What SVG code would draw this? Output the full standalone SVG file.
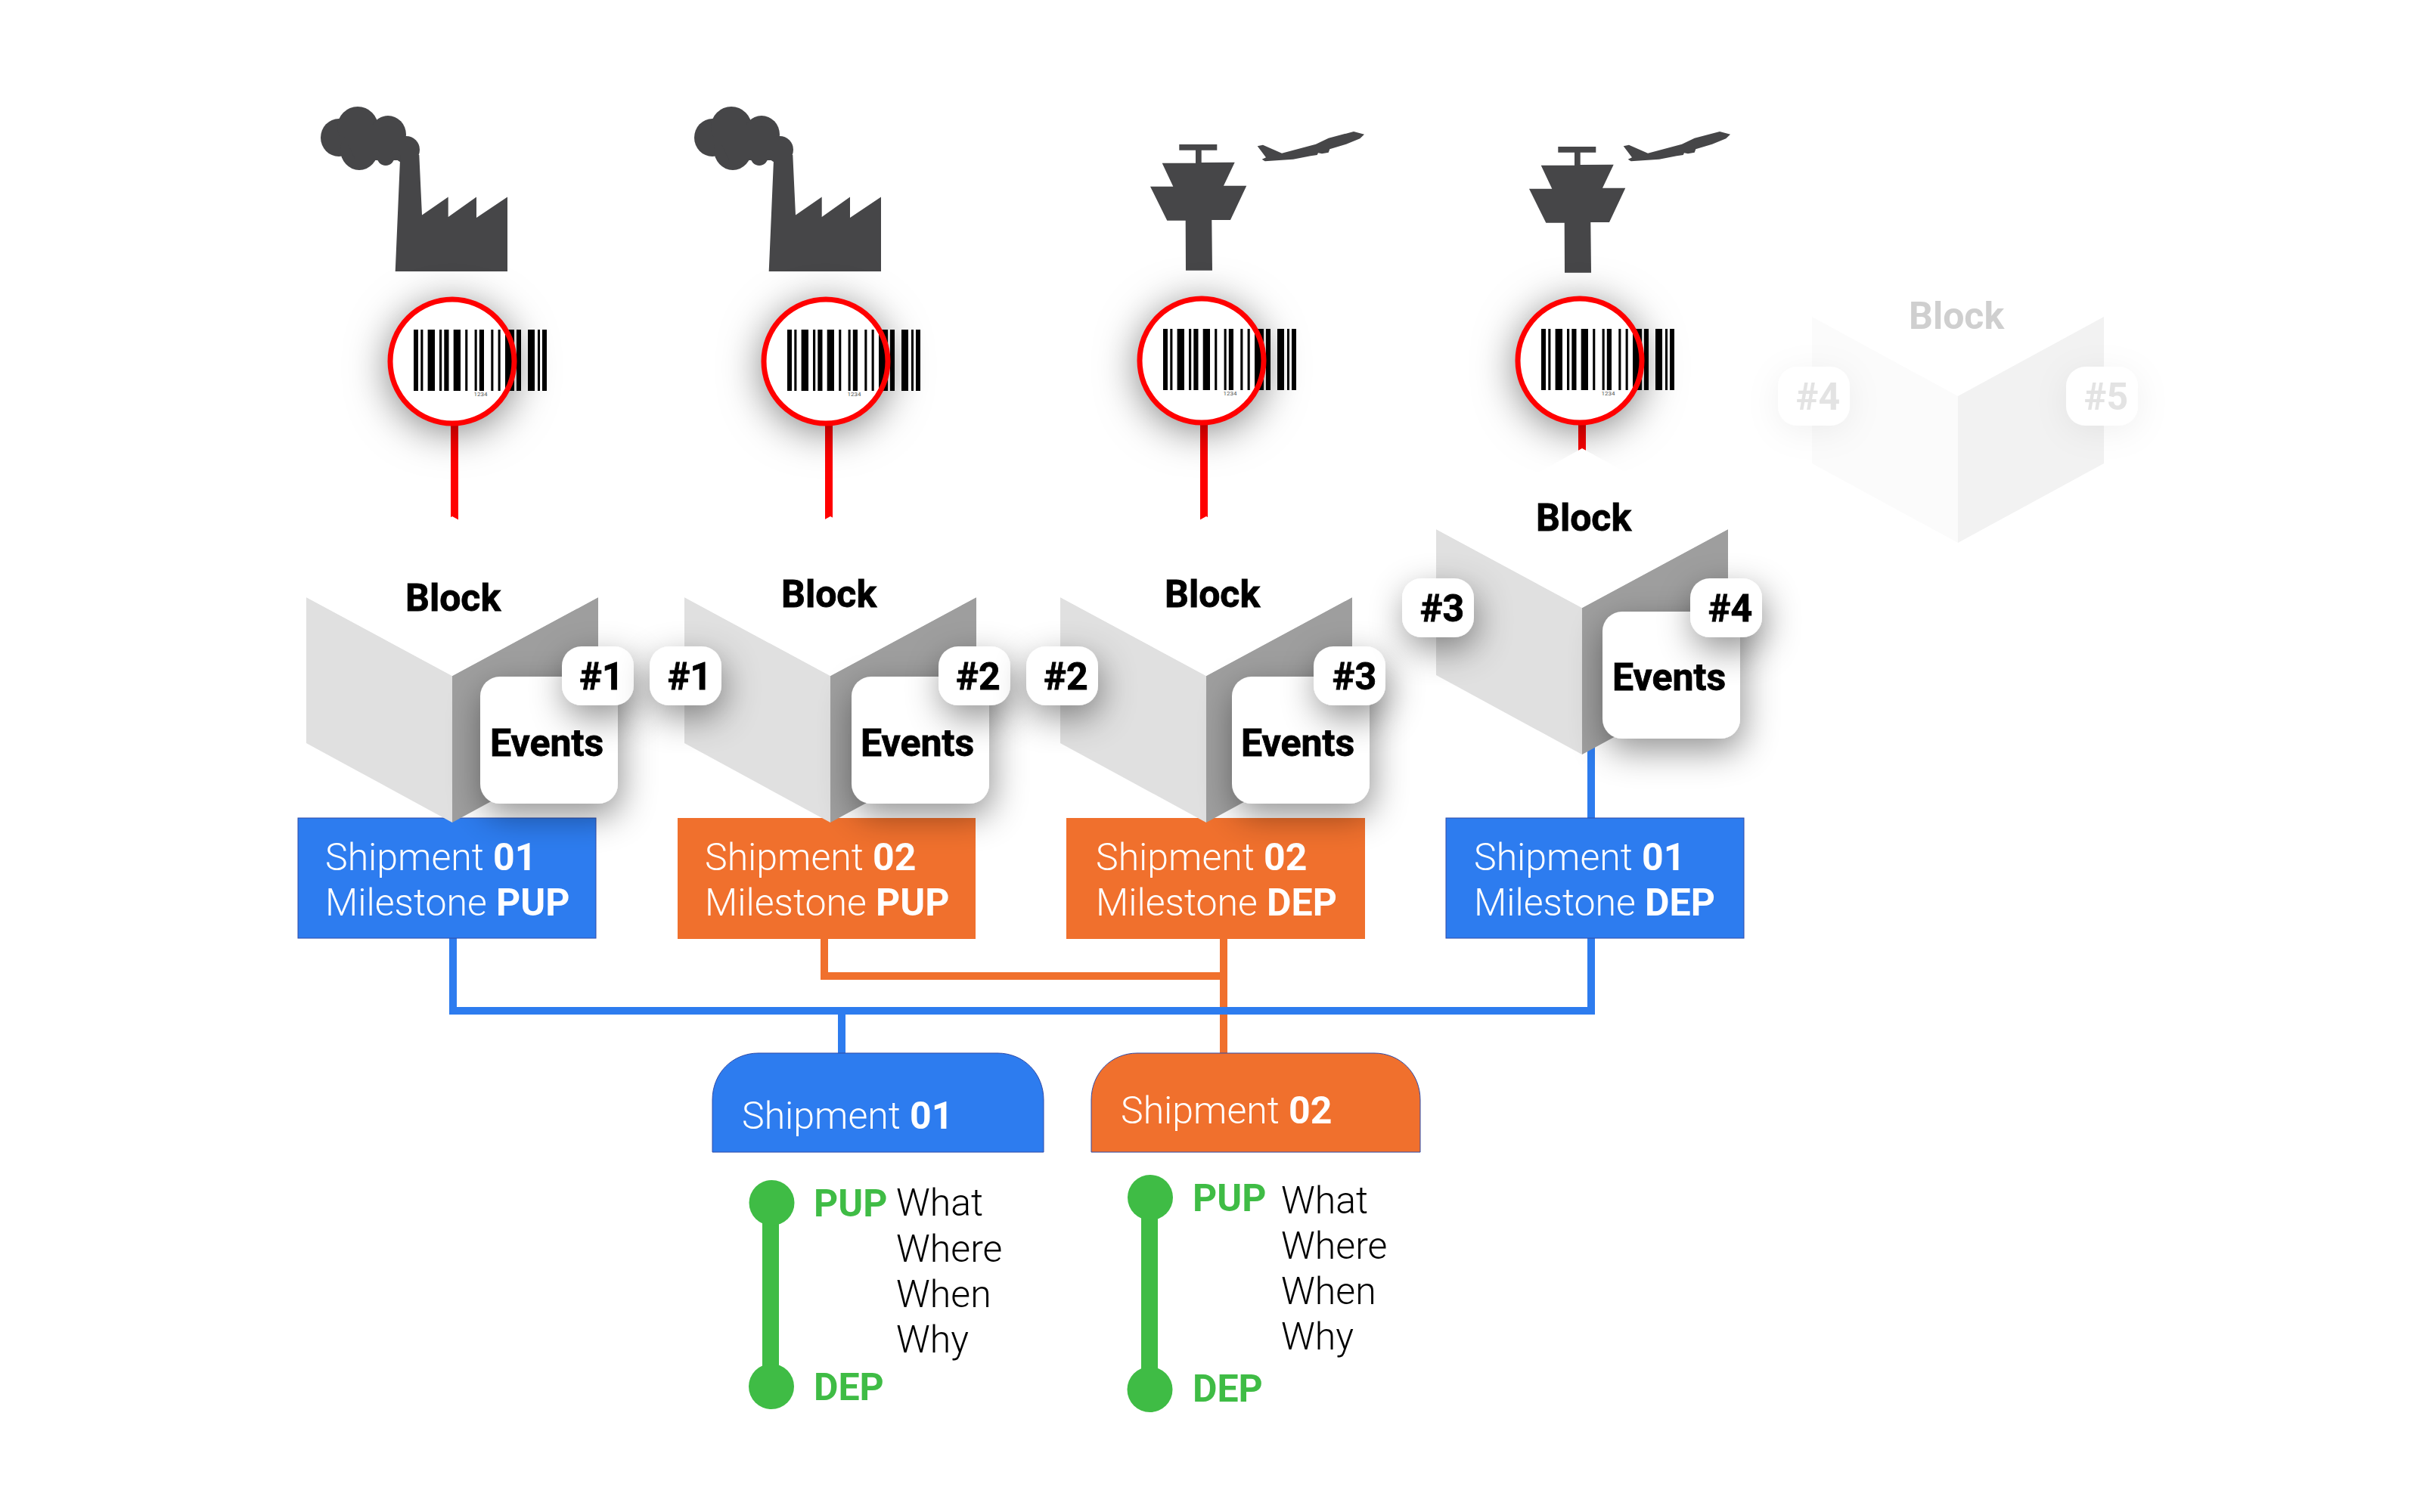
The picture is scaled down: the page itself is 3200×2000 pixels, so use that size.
<svg xmlns="http://www.w3.org/2000/svg" width="3200" height="2000" viewBox="0 0 3200 2000">
<style>
text{font-family:Roboto,"Liberation Sans",sans-serif}
.h{font-size:50px;font-weight:700;fill:#000;stroke:#000;stroke-width:.8px}
.m{text-anchor:middle}
.w{font-size:50px;font-weight:300;fill:#fff}
.w tspan{font-weight:700}
.k{font-size:50px;font-weight:300;fill:#000}
.g{font-size:50px;font-weight:700;fill:#3fbc45}
.blue{fill:#2d7cef;stroke:#2f4aa8;stroke-width:1}
.orange{fill:#f0702d}
.orangeb{fill:#f0702d;stroke:#2f4aa8;stroke-width:1}
.icon{fill:#464648}
.cb{stroke:#2d7cef;stroke-width:10;fill:none}
.co{stroke:#f0702d;stroke-width:10;fill:none}
.cr{stroke:#f00;stroke-width:10;fill:none}
.tl{stroke:#3fbc45;stroke-width:22;fill:none}
.dot{fill:#3fbc45}
.card{fill:#fff;filter:url(#sh)}
.ghostbadge{fill:#fff;filter:url(#shg)}
.lens{fill:#fff;filter:url(#shl)}
.ring{fill:none;stroke:#f00;stroke-width:7}
.gt{stroke:none}
</style>
<defs>
<filter id="sh" x="-80%" y="-80%" width="260%" height="260%"><feDropShadow dx="4" dy="16" stdDeviation="23" flood-color="#000" flood-opacity="0.42"/></filter>
<filter id="shg" x="-80%" y="-80%" width="260%" height="260%"><feDropShadow dx="0" dy="8" stdDeviation="22" flood-color="#000" flood-opacity="0.06"/></filter>
<filter id="shl" x="-60%" y="-60%" width="220%" height="220%"><feDropShadow dx="0" dy="8" stdDeviation="28" flood-color="#000" flood-opacity="0.55"/></filter>
<g id="cube">
<path d="M0 0L193 104V298L0 193Z" fill="#e0e0e0"/>
<path d="M386 0L193 104V298L386 193Z" fill="#9e9e9e"/>
<path d="M0 0L193-107L386 0L193 104Z" fill="#fff"/>
</g>
<g id="barcode">
<path fill="#000" d="M0 0h6v81h-6zM9.3 0h3.1v81h-3.1zM18.6 0h9.4v81h-9.4zM34 0h3.2v81h-3.2zM40.3 0h6.2v81h-6.2zM52.7 0h9.3v81h-9.3zM68.2 0h3.1v81h-3.1zM80.6 0h3.1v81h-3.1zM86.8 0h6.2v81h-6.2zM102.3 0h3.1v81h-3.1zM111.6 0h3.1v81h-3.1zM121 0h12v81h-12zM136 0h6v81h-6zM151 0h9v81h-9zM164 0h3v81h-3zM170 0h6v81h-6z"/>
<text x="88.500" y="88" font-size="8" fill="#555" text-anchor="middle">1234</text>
</g>
<g id="factory" class="icon">
<ellipse cx="448" cy="182" rx="24" ry="25"/>
<ellipse cx="473" cy="168" rx="27" ry="27"/>
<ellipse cx="475" cy="198" rx="25" ry="27"/>
<ellipse cx="513" cy="178" rx="24" ry="25"/>
<ellipse cx="510" cy="206" rx="12" ry="13"/>
<ellipse cx="537" cy="198" rx="18" ry="18"/>
<path d="M460 165H530V212H470L460 190Z"/>
<path d="M522.7 359L529.3 205H554.3L558 284.6L592.7 260.5V287L630 260.5V288L671 260.5V359Z"/>
</g>
<g id="tower" class="icon">
<path d="M1559.3 191H1609.3V198.7H1588.7V215L1632.7 214.7L1618 245.7H1648.3L1627 291H1602.3L1603 357.7H1568L1567.7 291.7H1543.3L1521 246.7H1551.3L1536.7 215.7H1581V198.7H1559.3Z"/>
</g>
<g id="plane" class="icon">
<path d="M1662.7 193.3L1670 191.7L1695 202.7L1740 190.7L1756.7 182.7L1790 174L1804 177.7L1798.3 183.3L1780 190.7L1758.3 197.3L1756.7 201.7L1748 203.3L1743 202.3L1741.7 205L1733 206.3L1710 210.7L1672.7 213.3L1668.7 210.7L1674 208.3Z"/>
</g>
</defs>
<rect width="3200" height="2000" fill="#fff"/>
<g id="connectors">
<path class="cr" d="M601 560V700"/>
<path class="cr" d="M1096 560V700"/>
<path class="cr" d="M1592 560V700"/>
<path class="cr" d="M2092 560V610"/>
<path class="co" d="M1090 1240V1291H1618"/>
<path class="co" d="M1618 1240V1394"/>
<path class="cb" d="M599 1240V1337H2104V985"/>
<path class="cb" d="M1113 1337V1394"/>
<path class="tl" d="M1019 1591V1834"/>
<path class="tl" d="M1520 1584V1838"/>
</g>
<g id="icons">
<use href="#factory"/>
<use href="#factory" transform="translate(494,0)"/>
<use href="#tower"/>
<use href="#plane"/>
<use href="#tower" transform="translate(501,3)"/>
<use href="#plane" transform="translate(484,0)"/>
</g>
<g id="scanner1"><circle class="lens" cx="598" cy="478" r="82"/><use href="#barcode" x="547" y="436"/><circle class="ring" cx="598" cy="478" r="82"/></g>
<g id="scanner2"><circle class="lens" cx="1092" cy="478" r="82"/><use href="#barcode" x="1041" y="436"/><circle class="ring" cx="1092" cy="478" r="82"/></g>
<g id="scanner3"><circle class="lens" cx="1589" cy="477" r="82"/><use href="#barcode" x="1538" y="435"/><circle class="ring" cx="1589" cy="477" r="82"/></g>
<g id="scanner4"><circle class="lens" cx="2089" cy="477" r="82"/><use href="#barcode" x="2038" y="435"/><circle class="ring" cx="2089" cy="477" r="82"/></g>
<g id="milestone1"><rect class="blue" x="394" y="1082" width="394" height="159"/><text class="w" x="430" y="1151">Shipment <tspan>01</tspan></text><text class="w" x="430" y="1211">Milestone <tspan>PUP</tspan></text></g>
<g id="milestone2"><rect class="orange" x="896" y="1082" width="394" height="160"/><text class="w" x="932" y="1151">Shipment <tspan>02</tspan></text><text class="w" x="932" y="1211">Milestone <tspan>PUP</tspan></text></g>
<g id="milestone3"><rect class="orange" x="1410" y="1082" width="395" height="160"/><text class="w" x="1449" y="1151">Shipment <tspan>02</tspan></text><text class="w" x="1449" y="1211">Milestone <tspan>DEP</tspan></text></g>
<g id="milestone4"><rect class="blue" x="1912" y="1082" width="394" height="159"/><text class="w" x="1949" y="1151">Shipment <tspan>01</tspan></text><text class="w" x="1949" y="1211">Milestone <tspan>DEP</tspan></text></g>
<g id="block1"><use href="#cube" x="405" y="790"/><rect class="card" x="635" y="895" width="182" height="168" rx="26"/><rect class="card" x="743" y="855" width="95" height="78" rx="26"/><text class="h" x="536" y="808">Block</text><text class="h" x="648" y="1000">Events</text><text class="h m" x="795.500" y="912">#1</text></g>
<g id="block2"><use href="#cube" x="905" y="790"/><rect class="card" x="1126" y="895" width="182" height="168" rx="26"/><rect class="card" x="859" y="855" width="95" height="78" rx="26"/><rect class="card" x="1241" y="855" width="95" height="78" rx="26"/><text class="h" x="1033" y="803">Block</text><text class="h" x="1138" y="1000">Events</text><text class="h m" x="912" y="912">#1</text><text class="h m" x="1293.500" y="912">#2</text></g>
<g id="block3"><use href="#cube" x="1402" y="790"/><rect class="card" x="1629" y="895" width="182" height="168" rx="26"/><rect class="card" x="1357" y="855" width="95" height="78" rx="26"/><rect class="card" x="1737" y="855" width="95" height="78" rx="26"/><text class="h" x="1540" y="803">Block</text><text class="h" x="1641" y="1000">Events</text><text class="h m" x="1409.500" y="912">#2</text><text class="h m" x="1791" y="912">#3</text></g>
<g id="block4"><use href="#cube" x="1899" y="700"/><rect class="card" x="2119" y="809" width="182" height="168" rx="26"/><rect class="card" x="1854" y="765" width="95" height="78" rx="26"/><rect class="card" x="2235" y="765" width="95" height="78" rx="26"/><text class="h" x="2031" y="702">Block</text><text class="h" x="2132" y="913">Events</text><text class="h m" x="1907" y="822">#3</text><text class="h m" x="2288" y="822">#4</text></g>
<g id="block5"><path d="M2396 419L2589 524V718L2396 613Z" fill="#fbfbfb"/><path d="M2782 419L2589 524V718L2782 613Z" fill="#f2f2f2"/><rect class="ghostbadge" x="2351" y="485" width="95" height="78" rx="26"/><rect class="ghostbadge" x="2732" y="485" width="95" height="78" rx="26"/><text class="h gt" x="2524" y="435" style="fill:#cfcfcf">Block</text><text class="h m gt" x="2404" y="542" style="fill:#e3e3e3">#4</text><text class="h m gt" x="2785" y="542" style="fill:#e3e3e3">#5</text></g>
<g id="shipment1"><path class="blue" d="M942 1524V1455C942 1420 968 1393 1003 1393H1319C1354 1393 1380 1420 1380 1455V1524Z"/><text class="w" x="981" y="1493">Shipment <tspan>01</tspan></text></g>
<g id="shipment2"><path class="orangeb" d="M1443 1524V1455C1443 1420 1469 1393 1504 1393H1817C1852 1393 1878 1420 1878 1455V1524Z"/><text class="w" x="1482" y="1486">Shipment <tspan>02</tspan></text></g>
<g id="timeline1"><circle class="dot" cx="1020.500" cy="1591" r="30"/><circle class="dot" cx="1020" cy="1834" r="30"/><text class="g" x="1076" y="1609">PUP</text><text class="g" x="1076" y="1852">DEP</text><text class="k" x="1185" y="1608">What</text><text class="k" x="1185" y="1669">Where</text><text class="k" x="1185" y="1729">When</text><text class="k" x="1185" y="1789">Why</text></g>
<g id="timeline2"><circle class="dot" cx="1521" cy="1584" r="30"/><circle class="dot" cx="1520.500" cy="1838" r="30"/><text class="g" x="1577" y="1602">PUP</text><text class="g" x="1577" y="1854">DEP</text><text class="k" x="1694" y="1605">What</text><text class="k" x="1694" y="1665">Where</text><text class="k" x="1694" y="1725">When</text><text class="k" x="1694" y="1785">Why</text></g>
</svg>
